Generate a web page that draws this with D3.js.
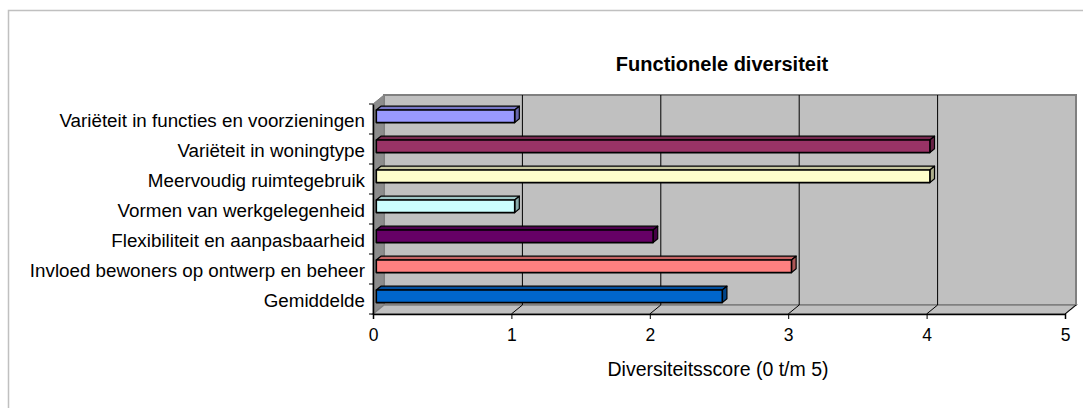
<!DOCTYPE html>
<html>
<head>
<meta charset="utf-8">
<script src="https://cdn.jsdelivr.net/npm/d3@7"></script>
<style>
  html, body { margin: 0; padding: 0; background: #fff; }
  svg { display: block; font-family: "Liberation Sans", Arial, sans-serif; }
</style>
</head>
<body>
<svg id="chart" width="1083" height="408"></svg>
<script>
// Categories (top to bottom) and their scores
const categories = [
  "Variëteit in functies en voorzieningen",
  "Variëteit in woningtype",
  "Meervoudig ruimtegebruik",
  "Vormen van werkgelegenheid",
  "Flexibiliteit en aanpasbaarheid",
  "Invloed bewoners op ontwerp en beheer",
  "Gemiddelde"
];
const scores = [1, 4, 4, 1, 2, 3, 2.5];
const barColors = ["#9999FF", "#993366", "#FFFFCC", "#CCFFFF", "#660066", "#FF8080", "#0066CC"];
const tickValues = [0, 1, 2, 3, 4, 5];
const chartTitle = "Functionele diversiteit";
const axisTitle = "Diversiteitsscore (0 t/m 5)";

const svg = d3.select("#chart");

// Chart area border (only left and top visible inside the window)
svg.append("rect")
  .attr("x", 8.5).attr("y", 10.5)
  .attr("width", 1100).attr("height", 420)
  .attr("fill", "#fff").attr("stroke", "#c0c0c0").attr("stroke-width", 1.5);

// Front plane of the 3D plot box
const front = { left: 373, right: 1065, top: 104, bottom: 314 };
const depth = { dx: 11, dy: -9 };   // offset from front plane to back wall

const x = d3.scaleLinear().domain([0, 5]).range([front.left, front.right]);
const y = d3.scaleBand().domain(categories).range([front.top, front.bottom]).paddingInner(0).paddingOuter(0);

const pt = (px, py, f) => [px + depth.dx * f, py + depth.dy * f];
const poly = pts => pts.map(p => p.join(",")).join(" ");

// Back wall
svg.append("polygon")
  .attr("points", poly([
    pt(x(0), front.top, 1), pt(x(5), front.top, 1),
    pt(x(5), front.bottom, 1), pt(x(0), front.bottom, 1)
  ]))
  .attr("fill", "#C0C0C0").attr("stroke", "#808080").attr("stroke-width", 2);

// Left side wall
svg.append("polygon")
  .attr("points", poly([
    pt(x(0), front.top, 0), pt(x(0), front.top, 1),
    pt(x(0), front.bottom, 1), pt(x(0), front.bottom, 0)
  ]))
  .attr("fill", "#8C8C8C").attr("stroke", "#808080").attr("stroke-width", 1);

// Floor
svg.append("polygon")
  .attr("points", poly([
    pt(x(0), front.bottom, 0), pt(x(5), front.bottom, 0),
    pt(x(5), front.bottom, 1), pt(x(0), front.bottom, 1)
  ]))
  .attr("fill", "#C0C0C0").attr("stroke", "#808080").attr("stroke-width", 1.5);

// Vertical gridlines on back wall and their run across the floor
const grid = svg.append("g");
tickValues.filter(v => v > 0 && v < 5).forEach(v => {
  const a = pt(x(v), front.top, 1), b = pt(x(v), front.bottom, 1);
  grid.append("line").attr("x1", a[0]).attr("y1", a[1]).attr("x2", b[0]).attr("y2", b[1])
    .attr("stroke", "#000").attr("stroke-width", 1);
});
tickValues.filter(v => v > 0).forEach(v => {
  const a = pt(x(v), front.bottom, 0), b = pt(x(v), front.bottom, 1);
  grid.append("line").attr("x1", a[0]).attr("y1", a[1]).attr("x2", b[0]).attr("y2", b[1])
    .attr("stroke", "#000").attr("stroke-width", 1);
});

// 3D bars
const f0 = 0.3, f1 = 0.72;        // bar front / back depth fractions
const barH = y.bandwidth() * 0.42;
const bars = svg.append("g");
categories.forEach((c, i) => {
  const col = d3.color(barColors[i]);
  const cy = y(c) + y.bandwidth() / 2;
  const x0 = x(0), x1 = x(scores[i]);
  const t = cy - barH / 2, b = cy + barH / 2;
  // top face
  bars.append("polygon")
    .attr("points", poly([pt(x0, t, f0), pt(x1, t, f0), pt(x1, t, f1), pt(x0, t, f1)]))
    .attr("fill", col.darker(0.7)).attr("stroke", "#000").attr("stroke-width", 1.2).attr("stroke-linejoin", "round");
  // right side face
  bars.append("polygon")
    .attr("points", poly([pt(x1, t, f0), pt(x1, t, f1), pt(x1, b, f1), pt(x1, b, f0)]))
    .attr("fill", col.darker(1.1)).attr("stroke", "#000").attr("stroke-width", 1.2).attr("stroke-linejoin", "round");
  // front face
  bars.append("polygon")
    .attr("points", poly([pt(x0, t, f0), pt(x1, t, f0), pt(x1, b, f0), pt(x0, b, f0)]))
    .attr("fill", col).attr("stroke", "#000").attr("stroke-width", 1.6).attr("stroke-linejoin", "round");
});

// Value axis along the front edge of the floor
const xAxis = d3.axisBottom(x).tickValues(tickValues).tickSize(5).tickPadding(10).tickFormat(d3.format("d"));
const gx = svg.append("g").attr("transform", `translate(0,${front.bottom})`).call(xAxis);
gx.select(".domain").attr("stroke", "#000").attr("stroke-width", 1.5);
gx.selectAll(".tick line").attr("stroke", "#000");
gx.selectAll(".tick text").attr("font-size", 17.5).attr("fill", "#000")
  .attr("font-family", "'Liberation Sans', Arial, sans-serif");

// Category axis along the front-left edge
const yAxis = d3.axisLeft(y).tickSize(0).tickPadding(8);
const gy = svg.append("g").attr("transform", `translate(${front.left},0)`).call(yAxis);
gy.select(".domain").attr("stroke", "#000").attr("stroke-width", 1.5);
gy.selectAll(".tick text").attr("font-size", 18.8).attr("fill", "#000")
  .attr("font-family", "'Liberation Sans', Arial, sans-serif")
  .attr("dy", "0.42em");
// category separators (ticks between bands)
const sepYs = categories.map(c => y(c)).concat([front.bottom]);
gy.selectAll("line.sep").data(sepYs).enter().append("line")
  .attr("class", "sep")
  .attr("x1", -4).attr("x2", 0).attr("y1", d => d).attr("y2", d => d)
  .attr("stroke", "#000");

// Titles
svg.append("text")
  .attr("x", 722).attr("y", 71)
  .attr("text-anchor", "middle")
  .attr("font-size", 20).attr("font-weight", "bold").attr("fill", "#000")
  .text(chartTitle);

svg.append("text")
  .attr("x", 718).attr("y", 376)
  .attr("text-anchor", "middle")
  .attr("font-size", 19.5).attr("fill", "#000")
  .text(axisTitle);
</script>
</body>
</html>
